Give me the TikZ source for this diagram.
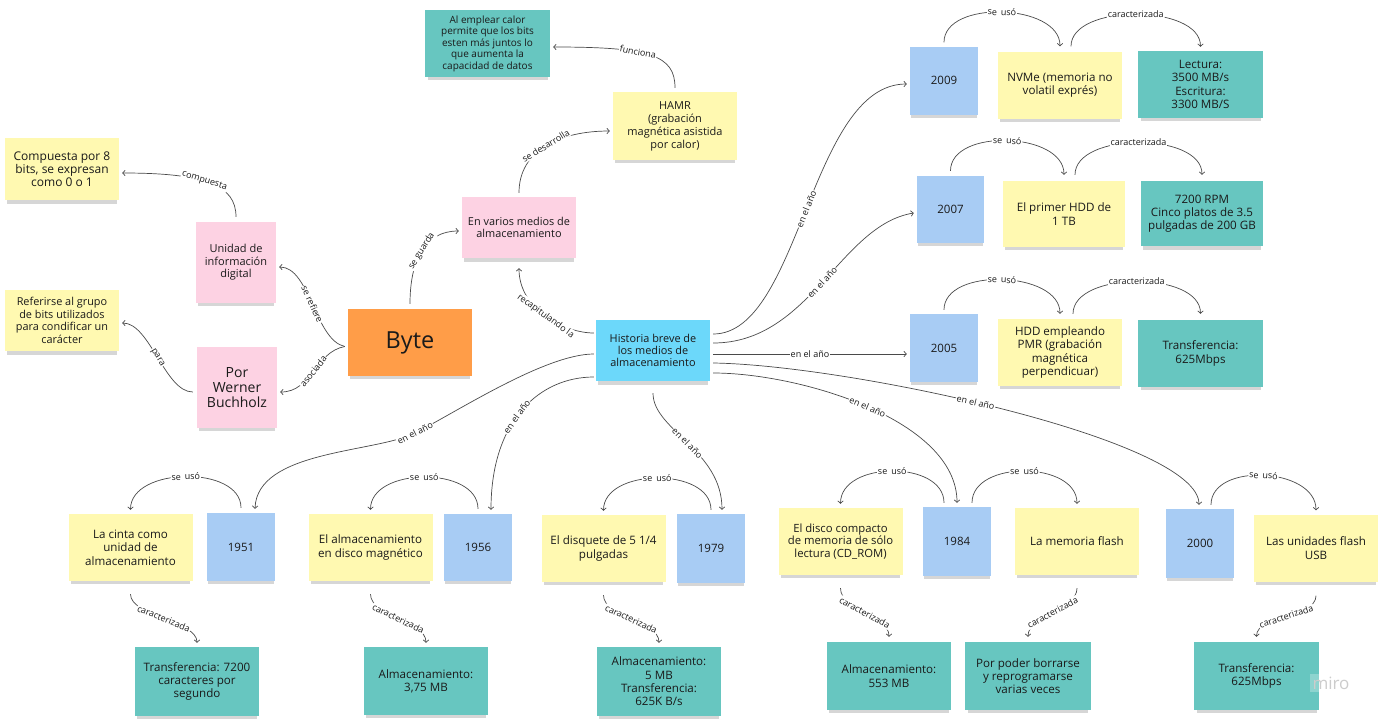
\documentclass[tikz,border=0pt]{standalone}
\usepackage{fontspec}
\setmainfont{Open Sans}
\usetikzlibrary{arrows.meta,shadows}
\definecolor{cYel}{HTML}{FFF9B1}
\definecolor{cPink}{HTML}{FDD2E3}
\definecolor{cOrange}{HTML}{FF9D48}
\definecolor{cCyan}{HTML}{6CD8FA}
\definecolor{cBlue}{HTML}{A8CCF4}
\definecolor{cTeal}{HTML}{67C6C0}
\definecolor{cText}{HTML}{1A1A1A}
\definecolor{cLine}{HTML}{4A4A4A}
\newcommand{\fs}[2]{\fontsize{#1}{#2}\selectfont}
\newcommand{\seuso}{se\hspace{4pt}usó}
\begin{document}
\begin{tikzpicture}[x=1pt,y=-1pt,
  note/.style={align=center, inner sep=2pt, text=cText, font=\fs{11.6}{13.3},
    drop shadow={fill=black, opacity=0.16, shadow scale=0.96, shadow xshift=0pt, shadow yshift=-5pt}},
  yel/.style={note, fill=cYel},
  pnk/.style={note, fill=cPink},
  org/.style={note, fill=cOrange},
  cya/.style={note, fill=cCyan},
  blu/.style={note, fill=cBlue},
  tea/.style={note, fill=cTeal},
  sz/.style 2 args={minimum width=#1pt, minimum height=#2pt},
  wide/.style={sz={124}{67}},
  yr/.style={blu, sz={68}{68}, font=\fs{11.5}{13}},
  conn/.style={draw=cLine, line width=0.7pt, -{Straight Barb[length=2.5pt,width=5.5pt]}},
  lbl/.style={font=\fs{9}{10}, fill=white, inner sep=0.8pt, text=cText, sloped},
]
\fill[white] (0,0) rectangle (1385,721);
\useasboundingbox (0,0) rectangle (1385,721);

% ---- left / central cluster
\node[tea, sz={125}{67}, font=\fs{10}{11.5}] (hamrd) at (487.5,43.5) {Al emplear calor\\permite que los bits\\esten más juntos lo\\que aumenta la\\capacidad de datos};
\node[yel, sz={124}{68}, font=\fs{11}{13}] (hamr) at (675,126) {HAMR\\(grabación\\magnética asistida\\por calor)};
\node[pnk, sz={114}{61}, font=\fs{10.9}{12}] (varios) at (519,227.5) {En varios medios de\\almacenamiento};
\node[yel, sz={114}{62}, font=\fs{12}{13}] (comp) at (62,169) {Compuesta por 8\\bits, se expresan\\como 0 o 1};
\node[pnk, sz={80}{81}, font=\fs{11}{12.5}] (unidad) at (236,262.5) {Unidad de\\información\\digital};
\node[yel, sz={114}{61}, font=\fs{10.9}{12.5}] (refer) at (62,320.5) {Referirse al grupo\\de bits utilizados\\para condificar un\\carácter};
\node[pnk, sz={80}{81}, font=\fs{14}{15}] (werner) at (237,387.5) {Por\\Werner\\Buchholz};
\node[org, sz={124}{67}, font=\fs{23.5}{25}] (byte) at (410,342.5) {Byte};
\node[cya, sz={114}{61}, font=\fs{10.9}{12.3}] (hist) at (653,350.5) {Historia breve de\\los medios de\\almacenamiento};

% ---- top right rows
\node[yr] (y2009) at (944,80.5) {2009};
\node[yel, wide] (nvme) at (1060,85) {NVMe (memoria no\\volatil exprés)};
\node[tea, sz={125}{67}] (lect) at (1200.5,84.5) {Lectura:\\3500 MB/s\\Escritura:\\3300 MB/S};
\node[yr, sz={67}{67}] (y2007) at (950.5,209.5) {2007};
\node[yel, sz={122}{66}] (hdd1) at (1064,214) {El primer HDD de\\1 TB};
\node[tea, sz={122}{65}] (rpm) at (1202,213.5) {7200 RPM\\Cinco platos de 3.5\\pulgadas de 200 GB};
\node[yr] (y2005) at (944,348) {2005};
\node[yel, wide] (pmr) at (1060,352.5) {HDD empleando\\PMR (grabación\\magnética\\perpendicuar)};
\node[tea, sz={125}{67}] (tr2005) at (1200.5,353.5) {Transferencia:\\625Mbps};

% ---- bottom row
\node[yel, wide] (cinta) at (130.5,547.5) {La cinta como\\unidad de\\almacenamiento};
\node[yr] (y1951) at (241,547) {1951};
\node[yel, wide] (alm) at (370.5,547.5) {El almacenamiento\\en disco magnético};
\node[yr, sz={68}{67}] (y1956) at (478,547.5) {1956};
\node[yel, wide] (disq) at (603.5,548.5) {El disquete de 5 1/4\\pulgadas};
\node[yr, sz={68}{69}] (y1979) at (711,548.5) {1979};
\node[yel, wide, font=\fs{11.3}{12.8}] (cd) at (840.5,541.5) {El disco compacto\\de memoria de sólo\\lectura (CD\_ROM)};
\node[yr, sz={68}{69}] (y1984) at (957,541.5) {1984};
\node[yel, wide] (flash) at (1077,541.5) {La memoria flash};
\node[yr, sz={68}{69}] (y2000) at (1200,543.5) {2000};
\node[yel, wide] (usb) at (1316,548) {Las unidades flash\\USB};

\node[tea, sz={124}{69}] (t7200) at (197,681.5) {Transferencia: 7200\\caracteres por\\segundo};
\node[tea, sz={124}{68}] (a375) at (426,681) {Almacenamiento:\\3,75 MB};
\node[tea, sz={124}{69}] (a5mb) at (659,681.5) {Almacenamiento:\\5 MB\\Transferencia:\\625K B/s};
\node[tea, sz={124}{68}] (a553) at (889,676) {Almacenamiento:\\553 MB};
\node[tea, sz={126}{68}] (borr) at (1028,676) {Por poder borrarse\\y reprogramarse\\varias veces};
\node[tea, sz={125}{68}] (t625) at (1256.5,676) {Transferencia:\\625Mbps};

\node[text=black!20, font=\fs{17}{17}, fill=white, fill opacity=0.25, text opacity=1, inner sep=3pt] (miro) at (1331,683) {miro};

% ---- connectors, left cluster
\draw[conn] ([xshift=-3pt,yshift=-4pt]byte.west) .. controls (315,340) and (310,267) .. ([xshift=3pt,yshift=-4.5pt]unidad.east) node[lbl,midway]{se refiere};
\draw[conn] ([xshift=-3pt,yshift=-4pt]byte.west) .. controls (315,352) and (312,392) .. ([xshift=3pt,yshift=-4.5pt]werner.east) node[lbl,midway]{asociada};
\draw[conn] ([yshift=5pt]unidad.north) .. controls (236,185) and (205,173) .. ([xshift=3pt,yshift=-4pt]comp.east) node[lbl,pos=0.55]{compuesta};
\draw[conn] ([xshift=-4pt,yshift=-4.5pt]werner.west) .. controls (165,392) and (150,323) .. ([xshift=3pt,yshift=-2.5pt]refer.east) node[lbl,midway]{para};
\draw[conn] ([yshift=5pt]byte.north) .. controls (410,260) and (425,231) .. ([xshift=-3pt,yshift=-3.5pt]varios.west) node[lbl,midway]{se guarda};
\draw[conn] ([yshift=4pt]varios.north) .. controls (519,150) and (560,131) .. ([xshift=-3pt,yshift=-5pt]hamr.west) node[lbl,midway]{se desarrolla};
\draw[conn] ([yshift=4pt]hamr.north) .. controls (675,55) and (650,47) .. ([xshift=3pt,yshift=-3.5pt]hamrd.east) node[lbl,pos=0.6]{funciona};
\draw[conn] ([xshift=-2pt,yshift=17.5pt]hist.west) .. controls (565,333) and (519,310) .. ([yshift=-10pt]varios.south) node[lbl,midway]{recapitulando la};

% ---- Historia to years (right)
\draw[conn] ([xshift=3pt,yshift=16.5pt]hist.east) .. controls (800,334) and (810,84) .. ([xshift=-3pt,yshift=-3.5pt]y2009.west) node[lbl,midway]{en el año};
\draw[conn] ([xshift=3pt,yshift=7.5pt]hist.east) .. controls (810,343) and (840,225) .. ([xshift=-3pt,yshift=-3.5pt]y2007.west) node[lbl,midway]{en el año};
\draw[conn] ([xshift=3pt,yshift=-3.5pt]hist.east) -- ([xshift=-3pt,yshift=-6pt]y2005.west) node[lbl,midway]{en el año};
\draw[conn] ([xshift=3pt,yshift=-12.5pt]hist.east) .. controls (850,365) and (1199,440) .. ([xshift=-1pt,yshift=4pt]y2000.north) node[lbl,pos=0.45]{en el año};
\draw[conn] ([xshift=3pt,yshift=-22.5pt]hist.east) .. controls (800,373) and (957,420) .. ([yshift=4pt]y1984.north) node[lbl,midway]{en el año};

% ---- Historia to years (left / down)
\draw[conn] ([xshift=-2pt,yshift=-3.5pt]hist.west) .. controls (545,354) and (455,413) .. (415,433) node[lbl,pos=1]{en el año} .. controls (375,453) and (257,450) .. ([xshift=14pt,yshift=4pt]y1951.north);
\draw[conn] ([xshift=-2pt,yshift=-26.5pt]hist.west) .. controls (540,377) and (491,420) .. ([xshift=13pt,yshift=4pt]y1956.north) node[lbl,pos=0.55]{en el año};
\draw[conn] ([yshift=-12pt]hist.south) .. controls (653,430) and (722,450) .. ([xshift=11pt,yshift=4pt]y1979.north) node[lbl,midway]{en el año};

% ---- se usó (bottom)
\draw[conn] ([yshift=5pt]y1951.north) .. controls +(0,-43) and +(0,-43) .. ([yshift=4pt]cinta.north) node[lbl,midway]{\seuso};
\draw[conn] ([yshift=5pt]y1956.north) .. controls +(0,-43) and +(0,-43) .. ([yshift=4pt]alm.north) node[lbl,midway]{\seuso};
\draw[conn] ([yshift=4pt]y1979.north) .. controls +(0,-43) and +(0,-43) .. ([yshift=4pt]disq.north) node[lbl,midway]{\seuso};
\draw[conn] ([xshift=-13pt,yshift=4pt]y1984.north) .. controls +(0,-43) and +(0,-43) .. ([yshift=4pt]cd.north) node[lbl,midway]{\seuso};
\draw[conn] ([xshift=15pt,yshift=4pt]y1984.north) .. controls +(0,-43) and +(0,-43) .. ([yshift=4pt]flash.north) node[lbl,midway]{\seuso};
\draw[conn] ([xshift=11pt,yshift=4pt]y2000.north) .. controls +(0,-43) and +(0,-43) .. ([yshift=4pt]usb.north) node[lbl,midway]{\seuso};

% ---- se usó / caracterizada (top right)
\draw[conn] ([yshift=4pt]y2009.north) .. controls +(0,-43) and +(0,-43) .. ([yshift=5pt]nvme.north) node[lbl,midway]{\seuso};
\draw[conn] ([xshift=11pt,yshift=5pt]nvme.north) .. controls +(0,-43) and +(0,-43) .. ([yshift=4pt]lect.north) node[lbl,midway]{caracterizada};
\draw[conn] ([yshift=5pt]y2007.north) .. controls +(0,-43) and +(0,-43) .. ([yshift=6pt]hdd1.north) node[lbl,midway]{\seuso};
\draw[conn] ([xshift=11pt,yshift=6pt]hdd1.north) .. controls +(0,-43) and +(0,-43) .. ([yshift=6pt]rpm.north) node[lbl,midway]{caracterizada};
\draw[conn] ([yshift=4pt]y2005.north) .. controls +(0,-43) and +(0,-43) .. ([yshift=5pt]pmr.north) node[lbl,midway]{\seuso};
\draw[conn] ([xshift=13pt,yshift=5pt]pmr.north) .. controls +(0,-43) and +(0,-43) .. ([yshift=6pt]tr2005.north) node[lbl,midway]{caracterizada};

% ---- caracterizada (bottom)
\draw[conn] ([yshift=-13pt]cinta.south) .. controls +(0,22) and +(0,-22) .. ([yshift=4pt]t7200.north) node[lbl,midway]{caracterizada};
\draw[conn] ([yshift=-13pt]alm.south) .. controls +(0,22) and +(0,-22) .. ([yshift=4pt]a375.north) node[lbl,midway]{caracterizada};
\draw[conn] ([yshift=-13pt]disq.south) .. controls +(0,22) and +(0,-22) .. ([yshift=4pt]a5mb.north) node[lbl,midway]{caracterizada};
\draw[conn] ([yshift=-13pt]cd.south) .. controls +(0,22) and +(0,-22) .. ([yshift=5pt]a553.north) node[lbl,midway]{caracterizada};
\draw[conn] ([yshift=-13pt]flash.south) .. controls +(0,22) and +(0,-22) .. ([yshift=5pt]borr.north) node[lbl,midway]{caracterizada};
\draw[conn] ([yshift=-14pt]usb.south) .. controls +(0,22) and +(0,-22) .. ([yshift=5pt]t625.north) node[lbl,midway]{caracterizada};
\end{tikzpicture}
\end{document}
